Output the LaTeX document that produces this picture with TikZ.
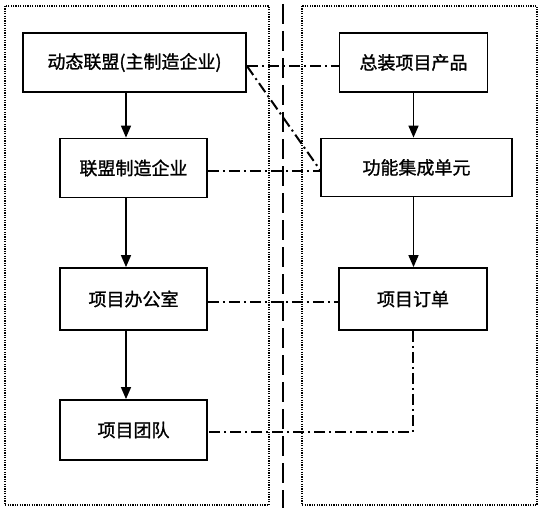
\documentclass[tikz,border=0pt]{standalone}
\usepackage{fontspec}
\newfontfamily\cjk[FakeBold=1.2,AutoFakeBold=1.2]{Noto Sans CJK SC}
\usetikzlibrary{arrows.meta}
\begin{document}
\begin{tikzpicture}[x=1pt,y=-1pt,
  box/.style={draw=black,line width=1.8pt,rectangle,inner sep=0pt,font=\cjk\fontsize{18}{20}\selectfont\bfseries},
  arr/.style={line width=1.5pt,-{Triangle[length=12pt,width=10pt]}},
  dd/.style={line width=2pt,dash pattern=on 11pt off 4pt on 2pt off 4pt},
  frame/.style={line width=1.5pt,dash pattern=on 1.2pt off 1.2pt},
  midline/.style={line width=1.7pt,dash pattern=on 20pt off 7pt}]
\useasboundingbox (0,0) rectangle (543,508);
\draw[frame] (5,6) rectangle (269,505);
\draw[frame] (302,6) rectangle (537,505);
\coordinate (ctop) at (283,4);
\coordinate (cbot) at (283,508);
\draw[midline] (ctop) -- (cbot);

\node[box,minimum width=223pt,minimum height=59pt] (b1) at (134.5,62.5) {动态联盟(主制造企业)};
\node[box,minimum width=147pt,minimum height=59pt] (b2) at (133.5,168) {联盟制造企业};
\node[box,minimum width=147pt,minimum height=62pt] (b3) at (133.5,299) {项目办公室};
\node[box,minimum width=147pt,minimum height=60pt] (b4) at (133.5,430) {项目团队};
\node[box,minimum width=148pt,minimum height=59pt] (r1) at (413.5,62.5) {总装项目产品};
\node[box,minimum width=191pt,minimum height=58pt] (r2) at (416.5,167.5) {功能集成单元};
\node[box,minimum width=148pt,minimum height=62pt] (r3) at (413,299) {项目订单};

\draw[arr] ([xshift=-8.5pt]b1.south) -- ([xshift=-8.5pt]b1.south |- b2.north);
\draw[arr] ([xshift=-7.5pt]b2.south) -- ([xshift=-7.5pt]b2.south |- b3.north);
\draw[arr] ([xshift=-7.5pt]b3.south) -- ([xshift=-7.5pt]b3.south |- b4.north);
\draw[arr] (r1.south) -- (r1.south |- r2.north);
\draw[arr] (r1.south |- r2.south) -- (r1.south |- r3.north);

\draw[dd] ([yshift=-3.5pt]b1.east) -- ([yshift=-3.5pt]b1.east -| r1.west);
\draw[dd] ([yshift=-3.5pt]b1.east) -- ([yshift=-2.5pt]r2.west);
\draw[dd] ([yshift=-3pt]b2.east) -- ([yshift=-3pt]b2.east -| r2.west);
\draw[dd] ([yshift=-3pt]b3.east) -- ([yshift=-3pt]b3.east -| r3.west);
\draw[dd] (r3.south) -- ([yshift=-2pt]r3.south |- b4.east) -- ([yshift=-2pt]b4.east);
\end{tikzpicture}
\end{document}
